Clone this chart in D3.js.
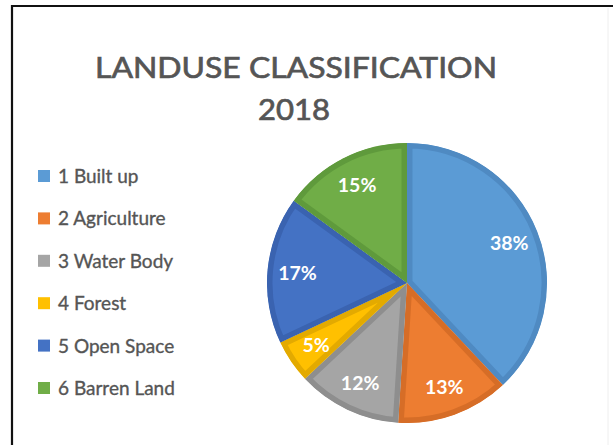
<!DOCTYPE html>
<meta charset="utf-8">
<style>
  body { margin: 0; background: #fff; }
  svg { display: block; font-family: Lato, "Open Sans", sans-serif; }
</style>
<svg width="613" height="445"></svg>
<script src="https://d3js.org/d3.v7.min.js"></script>
<script>

// data
categories = ["1 Built up", "2 Agriculture", "3 Water Body", "4 Forest", "5 Open Space", "6 Barren Land"]
values = [38, 13, 12, 5, 17, 15]
fills = ["#5b9bd5", "#ed7d31", "#a5a5a5", "#ffc000", "#4472c4", "#70ad47"]
edges = ["#4f8ac2", "#d66d27", "#8e8e8e", "#e3aa00", "#3a63b0", "#5f9a3c"]
title = ["LANDUSE CLASSIFICATION", "2018"]

width = 613
height = 445
radius = 140
cx = 407
cy = 283

var svg = d3.select("svg")

svg.append("rect")
    .attr("width", width)
    .attr("height", height)
    .attr("fill", "#fff")

// frame (left + top edges of the chart area)
svg.append("path")
    .attr("d", "M12,445V6H613")
    .attr("fill", "none")
    .attr("stroke", "#111")
    .attr("stroke-width", 2.2)
svg.append("line")
    .attr("x1", 608).attr("x2", 608)
    .attr("y1", 8).attr("y2", 445)
    .attr("stroke", "#eee")

// title
svg.append("g")
  .selectAll("text")
  .data(title)
  .join("text")
    .attr("x", (d, i) => i ? 294 : 296)
    .attr("y", (d, i) => i ? 120 : 78)
    .attr("text-anchor", "middle")
    .attr("fill", "#555")
    .attr("stroke", "#555")
    .attr("stroke-width", 0.7)
    .style("font-size", "29px")
    .attr("textLength", (d, i) => i ? 72 : 402)
    .attr("lengthAdjust", "spacingAndGlyphs")
    .text(d => d)

// legend
var legend = svg.append("g")
  .selectAll("g")
  .data(categories)
  .join("g")
    .attr("transform", (d, i) => "translate(38," + (176 + i * 42.4) + ")")

legend.append("rect")
    .attr("x", 0)
    .attr("y", -6)
    .attr("width", 12)
    .attr("height", 12)
    .attr("fill", (d, i) => fills[i])

legend.append("text")
    .attr("x", 20)
    .attr("y", 7)
    .attr("fill", "#555")
    .attr("stroke", "#555")
    .attr("stroke-width", 0.35)
    .style("font-size", "19px")
    .text(d => d)

// pie
var pie = d3.pie().sort(null)
var arcs = pie(values)
var arc = d3.arc().innerRadius(0).outerRadius(radius)
var labelArc = d3.arc().innerRadius(110).outerRadius(110)

var g = svg.append("g")
    .attr("transform", "translate(" + cx + "," + cy + ")")

var defs = svg.append("defs")
defs.selectAll("clipPath")
  .data(arcs)
  .join("clipPath")
    .attr("id", (d, i) => "clip" + i)
  .append("path")
    .attr("d", arc)

var slice = g.selectAll("g.slice")
  .data(arcs)
  .join("g")
    .attr("class", "slice")
    .attr("clip-path", (d, i) => "url(#clip" + i + ")")

slice.append("path")
    .attr("d", arc)
    .attr("fill", (d, i) => fills[i])
    .attr("stroke", (d, i) => edges[i])
    .attr("stroke-width", 11)
    .attr("stroke-linejoin", "round")

g.selectAll("text")
  .data(arcs)
  .join("text")
    .attr("transform", d => "translate(" + labelArc.centroid(d) + ")")
    .attr("text-anchor", "middle")
    .attr("dy", "0.36em")
    .attr("fill", "#fff")
    .style("font-size", "19.5px")
    .style("font-weight", "bold")
    .text(d => d.data + "%")

</script>
